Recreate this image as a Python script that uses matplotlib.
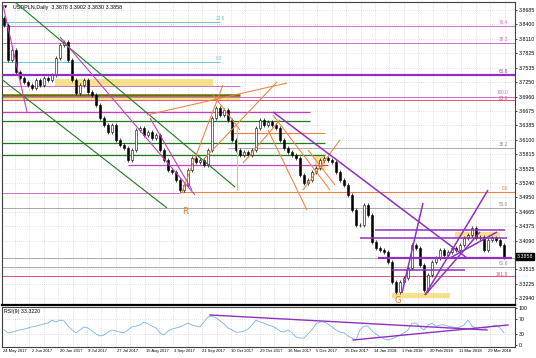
import numpy as np
import matplotlib
matplotlib.use("Agg")
import matplotlib.pyplot as plt
import matplotlib.transforms as mtransforms

plt.rcParams["font.family"] = ["Liberation Sans Narrow", "Liberation Sans", "DejaVu Sans"]

# ---- USDPLN daily closes (one candle ~ two sessions) ----
first_open = 3.8520
closes = [
    3.8386, 3.7688, 3.7888, 3.7449, 3.7329, 3.7250, 3.7190, 3.7130, 3.7290, 3.7190,
    3.7329, 3.7290, 3.7389, 3.7728, 3.7987, 3.8047, 3.7688, 3.7290, 3.7031, 3.7190,
    3.7290, 3.7050, 3.6991, 3.6791, 3.6532, 3.6393, 3.6253, 3.6393, 3.6094, 3.5994,
    3.5934, 3.5695, 3.5895, 3.6293, 3.6333, 3.6194, 3.6253, 3.6134, 3.6194, 3.5895,
    3.5695, 3.5496, 3.5456, 3.5297, 3.5097, 3.5197, 3.5496, 3.5735, 3.5655, 3.5695,
    3.5595, 3.5895, 3.6532, 3.6732, 3.6592, 3.6692, 3.6492, 3.6094, 3.5895, 3.5795,
    3.5855, 3.5795, 3.5895, 3.6333, 3.6492, 3.6393, 3.6453, 3.6393, 3.6333, 3.6094,
    3.5934, 3.5855, 3.5795, 3.5735, 3.5396, 3.5237, 3.5297, 3.5456, 3.5536, 3.5695,
    3.5735, 3.5695, 3.5655, 3.5456, 3.5297, 3.5197, 3.4998, 3.4699, 3.4400, 3.4400,
    3.4798, 3.4599, 3.4061, 3.3941, 3.3902, 3.3861, 3.3662, 3.3263, 3.3064, 3.3263,
    3.3343, 3.3542, 3.4001, 3.3941, 3.3602, 3.3104, 3.3403, 3.3662, 3.3741, 3.3902,
    3.3801, 3.3861, 3.3941, 3.3902, 3.4001, 3.4140, 3.4200, 3.4339, 3.4140, 3.4160,
    3.3902, 3.4100, 3.4140, 3.4100, 3.4001, 3.3762,
]
rsi = [
    41, 33, 35, 38, 41, 43, 46, 49, 51, 54,
    57, 59, 67, 62, 67, 65, 51, 41, 33, 41,
    49, 46, 38, 30, 25, 27, 35, 41, 38, 35,
    33, 41, 49, 51, 54, 62, 57, 51, 46, 33,
    27, 38, 43, 46, 49, 54, 59, 54, 51, 49,
    62, 75, 78, 73, 65, 57, 46, 41, 35, 35,
    38, 43, 54, 67, 62, 59, 54, 51, 46, 38,
    35, 41, 33, 22, 19, 19, 30, 41, 57, 62,
    62, 57, 49, 41, 35, 33, 25, 19, 14, 41,
    51, 51, 38, 30, 22, 17, 14, 17, 22, 27,
    33, 41, 59, 59, 49, 41, 54, 59, 51, 54,
    54, 51, 49, 46, 49, 54, 67, 51, 46, 41,
    43, 49, 51, 54, 46, 33.322,
]

price_ticks = [3.8685, 3.8400, 3.8110, 3.7825, 3.7535, 3.7250, 3.6960, 3.6675,
               3.6385, 3.6100, 3.5815, 3.5525, 3.5240, 3.4950, 3.4665, 3.4375,
               3.4090, 3.3515, 3.3225, 3.2940]
rsi_ticks = [0, 30, 70, 100]
date_labels = ["24 May 2017", "2 Jun 2017", "20 Jun 2017", "9 Jul 2017", "27 Jul 2017",
               "15 Aug 2017", "3 Sep 2017", "21 Sep 2017", "10 Oct 2017", "29 Oct 2017",
               "16 Nov 2017", "5 Dec 2017", "25 Dec 2017", "14 Jan 2018", "1 Feb 2018",
               "20 Feb 2018", "11 Mar 2018", "29 Mar 2018"]
title_text = "USDPLN,Daily  3.3878 3.3902 3.3830 3.3858"
rsi_title = "RSI(9) 33.3220"
last_price = 3.3858

# horizontal levels: (price, from bar, to bar)
cyan_levels = [(3.8446, -1, 54), (3.7648, -1, 54)]
pink_levels = [(3.8366, -1, 128), (3.8027, -1, 128), (3.7170, -1, 59),
               (3.6951, -1, 128), (3.5037, -1, 44)]
red_levels = [(3.6891, -1, 128), (3.3383, -1, 128)]
gray_levels = [(3.5934, 56, 128), (3.4739, -1, 128), (3.3742, -1, 128), (3.3563, -1, 128)]
green_levels = [(3.6472, -1, 76.5), (3.6034, -1, 80.25), (3.5795, -1, 80.25)]
magenta_levels = [(3.6652, -1, 76.5), (3.5600, 31, 81)]
orange_levels = [(3.6233, 56.5, 80.25), (3.5057, 44, 128)]
olive_levels = [(3.6991, -1, 59)]
purple_levels = [(3.7389, -1, 128), (3.4300, 92.75, 125.25), (3.4140, 89, 125.75),
                 (3.3742, 93.5, 127), (3.3503, 97, 115.25)]
# zones: (low, high, from bar, to bar)
yellow_zones = [(3.7170, 3.7310, 12.75, 52.25), (3.6891, 3.6971, -1, 59),
                (3.4140, 3.4260, 112.75, 124), (3.2945, 3.3045, 97, 111.5),
                (3.5497, 3.5795, 77.75, 80.25)]

# trend lines: ((bar, price), (bar, price))
green_trends = [((2.75, 3.8844), (57.75, 3.5157)), ((-1, 3.7329), (40.75, 3.4739))]
magenta_trends = [((-0.25, 3.8784), (5.75, 3.6652)), ((14, 3.8147), (47.75, 3.4998)),
                  ((36.5, 3.6532), (47, 3.5097))]
orange_trends = [((35.75, 3.6592), (70.75, 3.7230)), ((44.5, 3.5057), (54.75, 3.7190)),
                 ((49.75, 3.5695), (68.25, 3.7250)), ((59.75, 3.5635), (69, 3.6492)),
                 ((74.75, 3.5097), (84, 3.6094)), ((52.25, 3.6991), (59, 3.6293)),
                 ((66, 3.6293), (75.75, 3.4698)), ((67.25, 3.6592), (81.5, 3.5097)),
                 ((76, 3.5895), (82.75, 3.5197))]
purple_trends = [((67.25, 3.6652), (115.75, 3.3742)), ((99.5, 3.3045), (104.75, 3.4838)),
                 ((105.25, 3.3005), (121, 3.5097)), ((105.25, 3.3005), (119, 3.4260)),
                 ((111.5, 3.3742), (123.25, 3.4260))]
rsi_trends = [((51.5, 80.7), (120.75, 40.7)), ((87.25, 14), (126, 54))]
yellow_marks = [((58.25, 3.6353), (58.25, 3.5097))]

# level captions: (bar, price, text, colour)
fib_labels = [(53, 3.8470, "23.6", "#6cc0d0"), (53, 3.7672, "0.0", "#6cc0d0"),
              (126, 3.8390, "76.4", "#d070c8"), (126, 3.8050, "38.2", "#d070c8"),
              (126, 3.7410, "61.8", "#9030c0"), (126, 3.6990, "100.0", "#d070c8"),
              (126, 3.6870, "23.6", "#e8507a"), (126, 3.5960, "38.2", "#909090"),
              (126, 3.5080, "0.0", "#f08040"), (126, 3.4765, "50.0", "#909090"),
              (126, 3.3590, "61.8", "#909090"), (126, 3.3360, "161.8", "#e8507a")]
wave_labels = [(45.25, 3.4659, "R"), (98.5, 3.2885, "G")]

colors = {"cyan": "#6cc0d0", "pink": "#d070c8", "red": "#e8507a", "gray": "#a8a8a8",
          "green": "#1f7a1f", "magenta": "#c040c0", "orange": "#f08040",
          "olive": "#6b6b00", "purple": "#9030c0", "yellow": "#e0d040"}

fig = plt.figure(figsize=(5.36, 3.58), dpi=100)
ax = fig.add_axes([2/536, 1 - 305/358, 513/536, 303/358])
ax2 = fig.add_axes([2/536, 1 - 347/358, 513/536, 40/358])

xmin, xmax = -0.5, 127.75
grid_x = np.arange(2.75, xmax, 3.6)
dot = (0, (1, 2))

for a in (ax, ax2):
  a.set_xlim(xmin, xmax)
  a.vlines(grid_x, 0, 1, transform=a.get_xaxis_transform(), colors="#c8c8c8",
           linestyles=dot, linewidth=0.5, zorder=0)
  a.yaxis.tick_right()
  a.set_xticks([])
  for s in a.spines.values():
    s.set_color("#404040")
    s.set_linewidth(0.8)
ax.spines["bottom"].set_linewidth(1.6)
ax.spines["bottom"].set_color("black")

# main panel
ax.set_ylim(3.2805, 3.8844)
ax.set_yticks(price_ticks)
ax.tick_params(axis="y", labelsize=3.8, length=1.5, width=0.5, pad=1)
for p in price_ticks:
  ax.axhline(p, color="#c8c8c8", linestyle=dot, linewidth=0.5, zorder=0)

for lo, hi, x0, x1 in yellow_zones:
  ax.fill_between([x0, x1], lo, hi, color="#f5dc78", alpha=0.85, lw=0, zorder=1)

level_sets = [(cyan_levels, "cyan", 0.7), (pink_levels, "pink", 0.7), (red_levels, "red", 0.7),
              (gray_levels, "gray", 0.7), (green_levels, "green", 0.9),
              (magenta_levels, "magenta", 0.9), (orange_levels, "orange", 0.8),
              (olive_levels, "olive", 1.8)]
for lv, cname, lw in level_sets:
  for p, x0, x1 in lv:
    ax.hlines(p, x0, x1, color=colors[cname], linewidth=lw, zorder=2)
for k, (p, x0, x1) in enumerate(purple_levels):
  ax.hlines(p, x0, x1, color=colors["purple"], linewidth=1.6 if k in (0, 3) else 1.1, zorder=4)

# candles
bars = np.arange(len(closes))
opens = np.array([first_open] + closes[:-1])
cl = np.array(closes)
wick = 0.004
ax.vlines(bars, np.minimum(opens, cl) - wick, np.maximum(opens, cl) + wick,
          color="black", linewidth=0.5, zorder=3)
up = cl >= opens
ax.bar(bars[up], (cl - opens)[up], bottom=opens[up], width=0.55, color="white",
       edgecolor="black", linewidth=0.4, zorder=3)
ax.bar(bars[~up], (opens - cl)[~up], bottom=cl[~up], width=0.55, color="black",
       edgecolor="black", linewidth=0.4, zorder=3)

trend_sets = [(green_trends, "green", 0.8), (magenta_trends, "magenta", 0.8),
              (orange_trends, "orange", 0.75), (purple_trends, "purple", 1.1),
              (yellow_marks, "yellow", 0.8)]
for tl, cname, lw in trend_sets:
  for (x0, y0), (x1, y1) in tl:
    ax.plot([x0, x1], [y0, y1], color=colors[cname], linewidth=lw, zorder=4,
            solid_capstyle="butt")

for x, y, t, c in fib_labels:
  ax.text(x, y, t, color=c, fontsize=3.4, ha="right" if x > 100 else "left", va="bottom",
          zorder=5)
for x, y, t in wave_labels:
  ax.text(x, y, t, color="#e08020", fontsize=6, ha="center", va="center", zorder=5,
          family="DejaVu Sans")

ax.text(0.004, 0.988, "\u25bc", transform=ax.transAxes, fontsize=3, va="top", ha="left",
        family="DejaVu Sans")
ax.text(0.022, 0.99, title_text, transform=ax.transAxes, fontsize=3.9, va="top", ha="left")

tr = mtransforms.blended_transform_factory(ax.transAxes, ax.transData)
ax.text(1.004, last_price - 0.009, f"{last_price:.4f}", transform=tr, fontsize=3.8,
        color="white", va="center", ha="left",
        bbox=dict(boxstyle="square,pad=0.15", fc="black", ec="black"), clip_on=False)

# RSI panel
ax2.set_ylim(-4.7, 102)
ax2.set_yticks(rsi_ticks)
ax2.tick_params(axis="y", labelsize=3.8, length=1.5, width=0.5, pad=1)
for v in (30, 70):
  ax2.axhline(v, color="#c8c8c8", linestyle=dot, linewidth=0.5, zorder=0)
ax2.plot(np.arange(len(rsi)), rsi, color="#78b4dc", linewidth=0.6, zorder=2)
for (x0, y0), (x1, y1) in rsi_trends:
  ax2.plot([x0, x1], [y0, y1], color=colors["purple"], linewidth=1.0, zorder=3)
ax2.text(0.004, 0.95, rsi_title, transform=ax2.transAxes, fontsize=3.8, va="top", ha="left")

date_pos = -0.25 + 7.125 * np.arange(len(date_labels))
for x, t in zip(date_pos, date_labels):
  ax2.text(x, -0.06, t, transform=ax2.get_xaxis_transform(), fontsize=3.0,
           ha="left", va="top", clip_on=False)

fig.savefig("out.png", dpi=100)
